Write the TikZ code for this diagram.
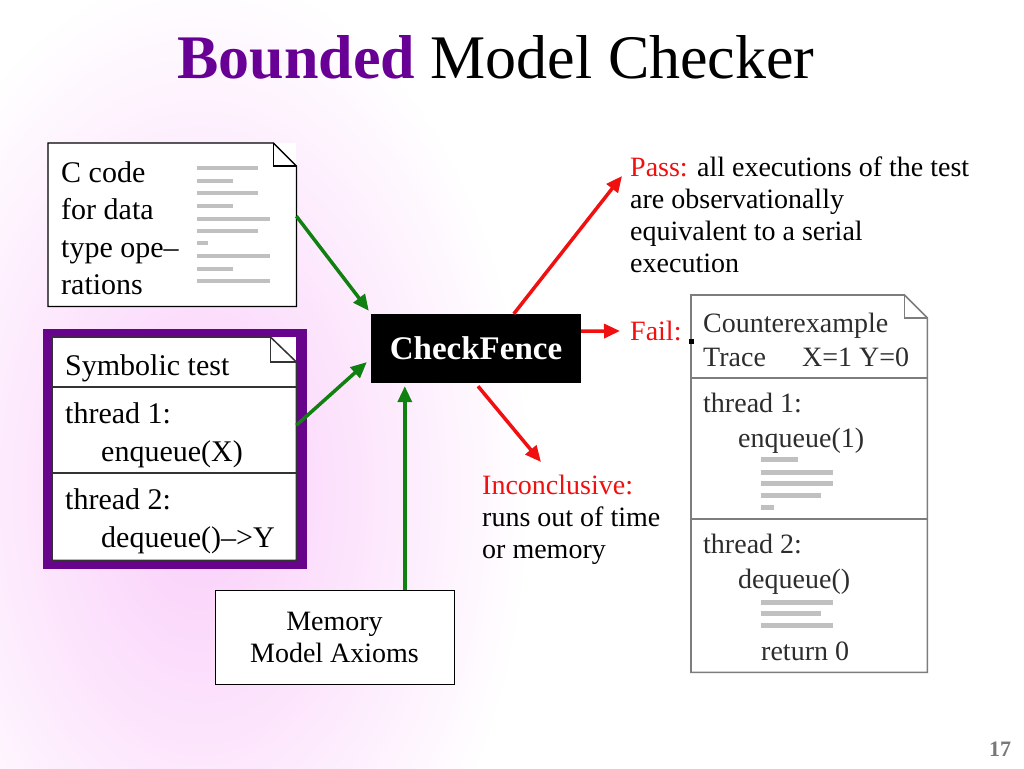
\documentclass[tikz,border=0pt]{standalone}
\usepackage{fontspec}
\setmainfont{Liberation Serif}
\usetikzlibrary{arrows.meta,calc}
\definecolor{ttlpurple}{RGB}{104,0,150}
\definecolor{framepurple}{RGB}{104,4,140}
\definecolor{grn}{RGB}{16,128,16}
\definecolor{rd}{RGB}{240,16,16}
\definecolor{barg}{RGB}{192,192,192}
\definecolor{glow}{RGB}{250,205,250}
\definecolor{cexline}{RGB}{125,125,125}
\definecolor{cextext}{RGB}{45,45,45}
\definecolor{pgnum}{RGB}{120,120,120}
\begin{document}
\begin{tikzpicture}[x=1pt,y=-1pt,
  garrow/.style={draw=grn,line width=3.5pt,-{Triangle[length=16pt,width=14pt]}},
  rarrow/.style={draw=rd,line width=3.5pt,-{Triangle[length=16pt,width=14pt]}},
  big/.style={inner sep=0pt,anchor=base west,font=\fontsize{30}{38}\selectfont},
  mid/.style={inner sep=0pt,font=\fontsize{28}{32}\selectfont},
  cexfont/.style={inner sep=0pt,anchor=base west,text=cextext,font=\fontsize{28}{32}\selectfont},
  frame/.style={inner sep=0pt,anchor=north west},
  docline/.style={draw=black,line width=1.3pt},
  symline/.style={draw=black!80,line width=1.5pt},
  cexstroke/.style={draw=cexline,line width=1.6pt},
  bar/.style={draw=barg,line width=4pt},
  cexbar/.style={draw=barg,line width=5pt}
]
\useasboundingbox (0,0) rectangle (1024,768);
\fill[white] (0,0) rectangle (1024,768);
\begin{scope}
  \clip (0,0) rectangle (1024,768);
  \shade[inner color=glow, outer color=white] (200,490) ellipse [x radius=330, y radius=520];
\end{scope}

% title
\node[inner sep=0pt,anchor=base,font=\fontsize{62}{62}\selectfont] (title) at (496,78)
  {\textcolor{ttlpurple}{\bfseries Bounded} Model Checker};

% C code document
\node[frame,minimum width=248pt,minimum height=163pt,fill=white] (code) at (48,143) {};
\draw[docline] (code.south west) -- (code.north west) -- ([xshift=-23pt]code.north east)
  -- ([yshift=-23pt]code.north east) -- (code.south east) -- cycle;
\draw[docline] ([xshift=-23pt]code.north east) -- ([xshift=-23pt,yshift=-23pt]code.north east)
  -- ([yshift=-23pt]code.north east);
\node[big] (code1) at (61,182) {C code};
\node[big] (code2) at (61,219.5) {for data};
\node[big] (code3) at (61,257) {type ope–};
\node[big] (code4) at (61,294.5) {rations};
\foreach \yy/\xe in {168/258,181/233,193/258,206/233,219/270,231/258,243/208,256/270,269/233,281/270}
  \draw[bar] (197,\yy) -- (\xe,\yy);

% Symbolic test
\fill[framepurple] (43,329) rectangle (307,569);
\node[frame,minimum width=244pt,minimum height=223pt,fill=white] (sym) at (52,337) {};
\draw[symline] (sym.south west) -- (sym.north west) -- ([xshift=-26pt]sym.north east)
  -- ([yshift=-25pt]sym.north east) -- (sym.south east) -- cycle;
\draw[symline] ([xshift=-26pt]sym.north east) -- ([xshift=-26pt,yshift=-25pt]sym.north east)
  -- ([yshift=-25pt]sym.north east);
\coordinate (d1) at (0,387);
\coordinate (d2) at (0,473);
\draw[symline] (sym.west |- d1) -- (sym.east |- d1);
\draw[symline] (sym.west |- d2) -- (sym.east |- d2);
\node[big] (sym1) at (65,375) {Symbolic test};
\node[big] (sym2) at (65,423) {thread 1:};
\node[big] (sym3) at (101,461) {enqueue(X)};
\node[big] (sym4) at (65,509) {thread 2:};
\node[big] (sym5) at (101,547) {dequeue()–>Y};

% CheckFence
\node[fill=black,text=white,minimum width=210pt,minimum height=69pt,inner sep=0pt,
  font=\bfseries\fontsize{33}{33}\selectfont] (cf) at (476,348.5) {CheckFence};

% Memory model axioms
\node[draw=black,line width=1pt,fill=white,minimum width=239pt,minimum height=94pt,
  align=center,mid] (mem) at (334.5,637) {Memory\\Model Axioms};

% Pass text
\node[mid,anchor=north west,align=left] (pass) at (630,157)
  {\textcolor{rd}{Pass:} all executions of the test\\are observationally\\equivalent to a serial\\execution};
% Fail
\node[mid,anchor=base west,text=rd] (fail) at (630,340) {Fail:};
% Inconclusive
\node[mid,anchor=north west,align=left] (inc) at (482,475)
  {\textcolor{rd}{Inconclusive:}\\runs out of time\\or memory};

% Counterexample document
\node[frame,minimum width=236pt,minimum height=377pt,fill=white] (cex) at (691,295) {};
\draw[cexstroke] (cex.south west) -- (cex.north west) -- ([xshift=-23pt]cex.north east)
  -- ([yshift=-23pt]cex.north east) -- (cex.south east) -- cycle;
\draw[cexstroke] ([xshift=-23pt]cex.north east) -- ([xshift=-23pt,yshift=-23pt]cex.north east)
  -- ([yshift=-23pt]cex.north east);
\coordinate (e1) at (0,378);
\coordinate (e2) at (0,519);
\draw[cexstroke] (cex.west |- e1) -- (cex.east |- e1);
\draw[cexstroke] (cex.west |- e2) -- (cex.east |- e2);
\fill[black] (689,339) rectangle (694,344);
\node[cexfont] (cex1) at (703,332) {Counterexample};
\node[cexfont] (cex2) at (703,366) {Trace};
\node[cexfont] (cex3) at (802,366) {X=1 Y=0};
\node[cexfont] (cex4) at (703,412) {thread 1:};
\node[cexfont] (cex5) at (738,447) {enqueue(1)};
\node[cexfont] (cex6) at (703,553) {thread 2:};
\node[cexfont] (cex7) at (738,588) {dequeue()};
\node[cexfont] (cex8) at (761,660) {return 0};
\foreach \yy/\xe in {459/798,472/833,483/833,495/821,507/774,602/833,613/821,625/833}
  \draw[cexbar] (761,\yy) -- (\xe,\yy);

% connectors
\draw[garrow] ($(code.north east)!0.448!(code.south east)$) -- ([xshift=-2pt,yshift=3pt]cf.north west);
\draw[garrow] ($(sym.north east)!0.395!(sym.south east)$) -- ($(cf.north west)!0.696!(cf.south west)+(-4,0)$);
\coordinate (memtip) at ($(cf.south west)+(34,3)$);
\draw[garrow] (mem.north -| memtip) -- (memtip);
\coordinate (passtip) at ($(pass.north west)+(-8,19)$);
\draw[rarrow] ($(cf.north west)+(143,0)$) -- (passtip);
\coordinate (failtip) at ($(fail.base west)+(-10,-9)$);
\draw[rarrow] ($(cf.north east)!0.25!(cf.south east)$) -- (failtip);
\coordinate (inctip) at ($(inc.north west)+(59,-13)$);
\draw[rarrow] ($(cf.south)+(2,3)$) -- (inctip);

% page number
\node[inner sep=0pt,anchor=base,text=pgnum,font=\bfseries\fontsize{22}{22}\selectfont] (pnum) at (1000,756) {17};
\end{tikzpicture}
\end{document}
